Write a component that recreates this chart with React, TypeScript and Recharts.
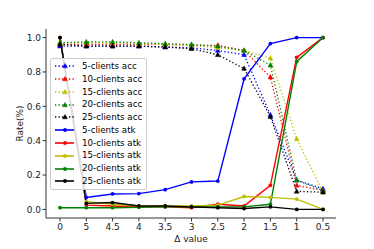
import React from 'react';
import { LineChart, Line, XAxis, YAxis, Legend } from 'recharts';

const categories = ['0', '5', '4.5', '4', '3.5', '3', '2.5', '2', '1.5', '1', '0.5'];

const acc5 = [0.95, 0.95, 0.95, 0.95, 0.945, 0.94, 0.925, 0.9, 0.55, 0.17, 0.12];
const acc10 = [0.96, 0.96, 0.96, 0.96, 0.96, 0.955, 0.955, 0.925, 0.77, 0.14, 0.11];
const acc15 = [0.97, 0.97, 0.97, 0.965, 0.96, 0.955, 0.94, 0.925, 0.88, 0.41, 0.1];
const acc20 = [0.97, 0.975, 0.975, 0.97, 0.965, 0.96, 0.95, 0.925, 0.84, 0.17, 0.11];
const acc25 = [0.96, 0.95, 0.95, 0.95, 0.945, 0.935, 0.9, 0.82, 0.54, 0.105, 0.1];

const atk5 = [1.0, 0.07, 0.09, 0.092, 0.115, 0.16, 0.165, 0.76, 0.965, 1.0, 1.0];
const atk10 = [1.0, 0.025, 0.02, 0.015, 0.015, 0.01, 0.03, 0.02, 0.14, 0.885, 1.0];
const atk15 = [1.0, 0.045, 0.03, 0.02, 0.02, 0.02, 0.025, 0.075, 0.07, 0.06, 0.0];
const atk20 = [0.01, 0.01, 0.01, 0.012, 0.015, 0.015, 0.015, 0.015, 0.03, 0.86, 1.0];
const atk25 = [1.0, 0.035, 0.04, 0.02, 0.02, 0.015, 0.01, 0.005, 0.015, 0.0, 0.0];

const yTicks = [0, 0.2, 0.4, 0.6, 0.8, 1.0];

const series = [
  { key: 'acc5', name: '5-clients acc', color: '#0000ff', values: acc5, dotted: true },
  { key: 'acc10', name: '10-clients acc', color: '#ff0000', values: acc10, dotted: true },
  { key: 'acc15', name: '15-clients acc', color: '#bfbf00', values: acc15, dotted: true },
  { key: 'acc20', name: '20-clients acc', color: '#008000', values: acc20, dotted: true },
  { key: 'acc25', name: '25-clients acc', color: '#000000', values: acc25, dotted: true },
  { key: 'atk5', name: '5-clients atk', color: '#0000ff', values: atk5, dotted: false },
  { key: 'atk10', name: '10-clients atk', color: '#ff0000', values: atk10, dotted: false },
  { key: 'atk15', name: '15-clients atk', color: '#bfbf00', values: atk15, dotted: false },
  { key: 'atk20', name: '20-clients atk', color: '#008000', values: atk20, dotted: false },
  { key: 'atk25', name: '25-clients atk', color: '#000000', values: atk25, dotted: false },
];

const data = categories.map((c, i) => {
  const row: any = { delta: c };
  series.forEach((s) => {
    row[s.key] = s.values[i];
  });
  return row;
});

const FONT = 'DejaVu Sans';
const DASH = '1.3 2.2';

const Marker = ({ cx, cy, color, tri }: any) =>
  tri ? (
    <polygon
      points={`${cx},${cy - 2.6} ${cx - 2.4},${cy + 1.8} ${cx + 2.4},${cy + 1.8}`}
      fill={color}
      stroke={color}
      strokeWidth={0.5}
    />
  ) : (
    <circle cx={cx} cy={cy} r={1.9} fill={color} stroke="none" />
  );

const makeDot = (color: string, tri: boolean, key: string) => (p: any) => {
  if (p.cx == null || p.cy == null) return <g key={`${key}-${p.index}`} />;
  return (
    <g key={`${key}-${p.index}`}>
      <Marker cx={p.cx} cy={p.cy} color={color} tri={tri} />
    </g>
  );
};

const LegendBox = () => (
  <div
    style={{
      background: 'rgba(255,255,255,0.85)',
      border: '1px solid #cccccc',
      borderRadius: 2,
      padding: '1px 4px 1px 3px',
      fontFamily: FONT,
      fontSize: 8.7,
      color: '#000',
      lineHeight: '12.78px',
    }}
  >
    {series.map((s) => (
      <div key={s.key} style={{ display: 'flex', alignItems: 'center', height: 12.78, whiteSpace: 'nowrap' }}>
        <svg width={22} height={10} style={{ marginRight: 6, overflow: 'visible' }}>
          <line
            x1={1}
            y1={5}
            x2={20}
            y2={5}
            stroke={s.color}
            strokeWidth={s.dotted ? 1.3 : 1.6}
            strokeDasharray={s.dotted ? DASH : undefined}
          />
          <Marker cx={11} cy={5} color={s.color} tri={s.dotted} />
        </svg>
        <span>{s.name}</span>
      </div>
    ))}
  </div>
);

export default function App() {
  return (
    <div style={{ position: 'absolute', left: 0, top: 0, width: 374, height: 249, background: '#fff' }}>
      <LineChart width={374} height={249} data={data} margin={{ top: 29, right: 38, bottom: 0, left: 0 }}>
        <XAxis
          dataKey="delta"
          type="category"
          padding={{ left: 14, right: 13 }}
          height={31}
          tickSize={3.5}
          tickMargin={2}
          stroke="#333"
          tick={{ fill: '#222', fontSize: 9, fontFamily: FONT }}
          interval={0}
          label={(props: any) => {
            const vb = props.viewBox;
            return (
              <text
                x={vb.x + vb.width / 2}
                y={242}
                textAnchor="middle"
                fontSize={9}
                fontFamily={FONT}
                fill="#222"
              >
                Δ value
              </text>
            );
          }}
        />
        <XAxis
          xAxisId="top"
          dataKey="delta"
          orientation="top"
          height={0}
          tick={false}
          tickLine={false}
          padding={{ left: 14, right: 13 }}
          stroke="#333"
        />
        <YAxis
          domain={[-0.05, 1.05]}
          ticks={yTicks}
          allowDataOverflow
          width={46}
          tickSize={3.5}
          tickMargin={1.5}
          stroke="#333"
          tickFormatter={(v: number) => v.toFixed(1)}
          tick={{ fill: '#222', fontSize: 9, fontFamily: FONT }}
          label={(props: any) => {
            const vb = props.viewBox;
            const cy = vb.y + vb.height / 2;
            return (
              <text
                x={20}
                y={cy}
                transform={`rotate(-90, 20, ${cy})`}
                textAnchor="middle"
                dominantBaseline="middle"
                fontSize={9}
                fontFamily={FONT}
                fill="#222"
              >
                Rate(%)
              </text>
            );
          }}
        />
        <YAxis
          yAxisId="right"
          orientation="right"
          width={0}
          tick={false}
          tickLine={false}
          domain={[-0.05, 1.05]}
          stroke="#333"
        />
        <Legend
          layout="vertical"
          align="center"
          verticalAlign="middle"
          wrapperStyle={{ position: 'absolute', left: 50, top: 58, width: 'auto' }}
          content={() => <LegendBox />}
        />
        {series.map((s) => (
          <Line
            key={s.key}
            dataKey={s.key}
            name={s.name}
            type="linear"
            stroke={s.color}
            strokeWidth={s.dotted ? 1.3 : 1.4}
            strokeDasharray={s.dotted ? DASH : undefined}
            dot={makeDot(s.color, s.dotted, s.key)}
            activeDot={false}
            isAnimationActive={false}
          />
        ))}
      </LineChart>
    </div>
  );
}
